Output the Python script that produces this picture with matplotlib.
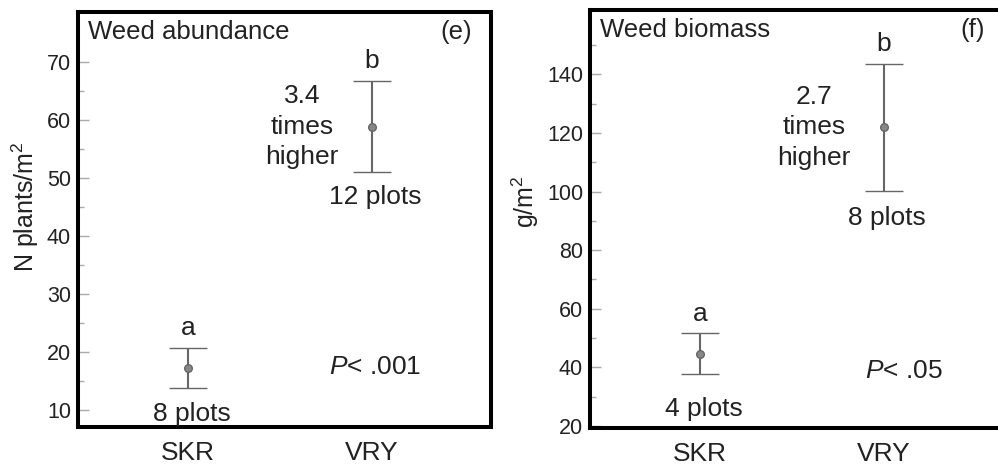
import numpy as np
import matplotlib
matplotlib.use("Agg")
import matplotlib.pyplot as plt
from matplotlib.ticker import FixedLocator

plt.rcParams['font.family'] = ['Liberation Sans', 'DejaVu Sans']
plt.rcParams['mathtext.fontset'] = 'custom'
plt.rcParams['mathtext.rm'] = 'Liberation Sans'
plt.rcParams['mathtext.it'] = 'Liberation Sans:italic'

# data
groups = ['SKR', 'VRY']
letters = ['a', 'b']

abund_mean = [17.2, 58.8]
abund_err = [3.5, 7.9]
abund_plots = [8, 12]
abund_fold = 3.4
abund_p = '< .001'
abund_ticks = [10, 20, 30, 40, 50, 60, 70]
abund_minor = [15, 25, 35, 45, 55, 65]

biomass_mean = [44.7, 122.0]
biomass_err = [6.9, 21.7]
biomass_plots = [4, 8]
biomass_fold = 2.7
biomass_p = '< .05'
biomass_ticks = [20, 40, 60, 80, 100, 120, 140]
biomass_minor = [30, 50, 70, 90, 110, 130, 150]

TXT = '#222222'
BAR = '#666666'


def draw_panel(ax, mean, err, plots, fold, ptext, title, tag, tag_x, ylabel,
               ylim, major, minor, plots_y, p_xy):
    x = np.arange(1, len(groups) + 1)
    ax.errorbar(x, mean, yerr=err, fmt='o', color=BAR, ecolor=BAR,
                elinewidth=1.5, capsize=14, capthick=1.5,
                markersize=5.5, markerfacecolor='#888888', markeredgecolor=BAR,
                markeredgewidth=1)
    ax.set_xlim(0.4, 2.65)
    ax.set_ylim(*ylim)
    ax.yaxis.set_major_locator(FixedLocator(major))
    ax.yaxis.set_minor_locator(FixedLocator(minor))
    ax.tick_params(axis='y', which='major', direction='in', length=8, width=1,
                   color='#aaaaaa', labelsize=15.5, labelcolor=TXT, pad=5)
    ax.tick_params(axis='y', which='minor', direction='in', length=4, width=1,
                   color='#aaaaaa')
    ax.set_xticks(x)
    ax.set_xticklabels(groups)
    ax.tick_params(axis='x', length=0, labelsize=19, labelcolor=TXT, pad=10)
    for s in ax.spines.values():
        s.set_linewidth(2.9)
        s.set_color('black')

    ax.set_ylabel(ylabel, fontsize=18, color=TXT, va='center')

    ax.text(0.024, 0.952, title, transform=ax.transAxes, fontsize=18.5,
            color=TXT, ha='left', va='center')
    ax.text(tag_x, 0.952, tag, transform=ax.transAxes, fontsize=18.5,
            color=TXT, ha='center', va='center')

    for xi, m, e, lt in zip(x, mean, err, letters):
        ax.annotate(lt, (xi, m + e), xytext=(0, 14), textcoords='offset points',
                    ha='center', va='center', fontsize=19, color=TXT)
    for xi, n, py in zip(x, plots, plots_y):
        ax.text(xi + 0.02, py, f'{n} plots', ha='center', va='center',
                fontsize=19, color=TXT)

    ax.annotate(f'{fold}\ntimes\nhigher', (x[1], mean[1]), xytext=(-50, 0),
                textcoords='offset points', ha='center', va='center',
                fontsize=19, color=TXT, linespacing=1.35)
    ax.text(p_xy[0], p_xy[1], '$P$' + ptext, ha='left', va='center',
            fontsize=19, color=TXT)


fig = plt.figure(figsize=(9.98, 4.69), dpi=100)
ax1 = fig.add_axes([0.0782, 0.0885, 0.4138, 0.886])
ax2 = fig.add_axes([0.5912, 0.0874, 0.4138, 0.8913])

draw_panel(ax1, abund_mean, abund_err, abund_plots, abund_fold, abund_p,
           'Weed abundance', '(e)', 0.915, 'N plants/m$^2$',
           (6.9, 78.6), abund_ticks, abund_minor, [9.3, 46.6], (1.77, 17.4))
ax1.yaxis.set_label_coords(-0.128, 0.531)

draw_panel(ax2, biomass_mean, biomass_err, biomass_plots, biomass_fold, biomass_p,
           'Weed biomass', '(f)', 0.927, 'g/m$^2$',
           (19.3, 162), biomass_ticks, biomass_minor, [25.8, 91.1], (1.90, 38.6))
ax2.yaxis.set_label_coords(-0.157, 0.541)

fig.savefig('out.png', dpi=100)
